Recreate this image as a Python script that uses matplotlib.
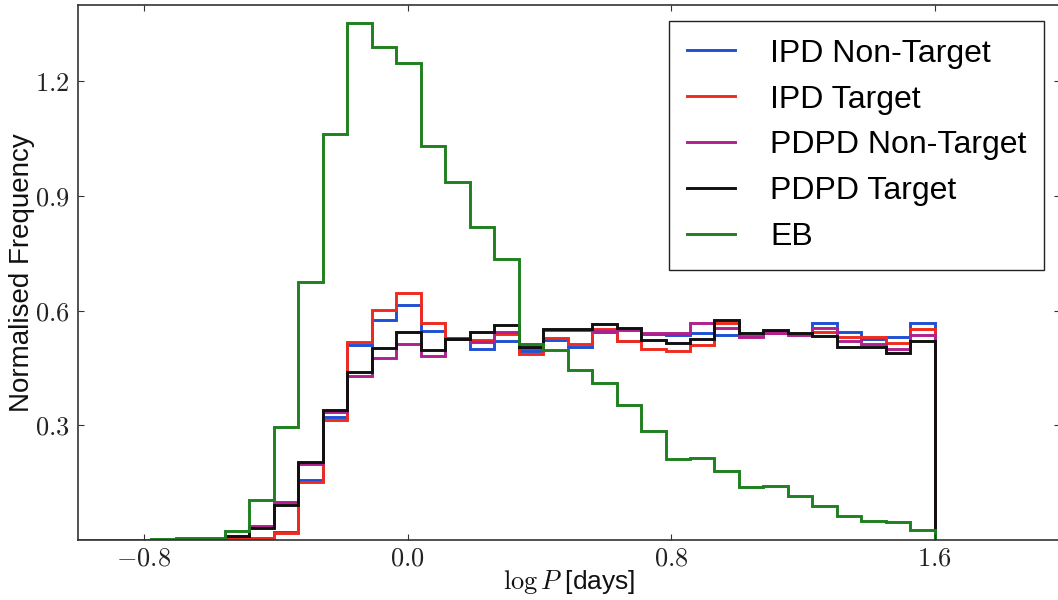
import numpy as np
import matplotlib
matplotlib.use("Agg")
import matplotlib.pyplot as plt

plt.rcParams["font.family"] = ["Liberation Sans", "DejaVu Sans"]
plt.rcParams["mathtext.fontset"] = "cm"

# Histogram bins in log P [days]
bin_edges = np.linspace(-1.0, 1.6, 36)

ipd_non_target = [0.0, 0.0, 0.0, 0.0, 0.001, 0.002, 0.008, 0.004, 0.020, 0.157,
                  0.322, 0.510, 0.577, 0.615, 0.548, 0.527, 0.501, 0.521, 0.494, 0.523,
                  0.505, 0.545, 0.521, 0.538, 0.536, 0.541, 0.536, 0.535, 0.544, 0.538,
                  0.569, 0.545, 0.527, 0.530, 0.567]
ipd_target = [0.0, 0.0, 0.0, 0.0, 0.001, 0.001, 0.003, 0.004, 0.019, 0.151,
              0.313, 0.517, 0.602, 0.646, 0.567, 0.528, 0.523, 0.539, 0.486, 0.529,
              0.512, 0.552, 0.521, 0.501, 0.495, 0.510, 0.567, 0.535, 0.542, 0.540,
              0.545, 0.530, 0.530, 0.516, 0.551]
pdpd_non_target = [0.0, 0.0, 0.0, 0.0, 0.001, 0.003, 0.010, 0.037, 0.100, 0.200,
                   0.335, 0.429, 0.475, 0.513, 0.481, 0.528, 0.518, 0.545, 0.503, 0.549,
                   0.549, 0.547, 0.549, 0.541, 0.541, 0.567, 0.554, 0.532, 0.542, 0.536,
                   0.554, 0.521, 0.514, 0.501, 0.536]
pdpd_target = [0.0, 0.0, 0.0, 0.0, 0.001, 0.003, 0.010, 0.032, 0.092, 0.205,
               0.339, 0.440, 0.503, 0.543, 0.497, 0.526, 0.543, 0.562, 0.505, 0.551,
               0.551, 0.564, 0.555, 0.523, 0.516, 0.525, 0.576, 0.542, 0.549, 0.542,
               0.534, 0.505, 0.505, 0.490, 0.520]
eb = [0.0, 0.0, 0.001, 0.002, 0.004, 0.006, 0.024, 0.105, 0.296, 0.676,
      1.063, 1.352, 1.290, 1.248, 1.030, 0.936, 0.818, 0.736, 0.514, 0.497,
      0.444, 0.412, 0.352, 0.284, 0.213, 0.215, 0.180, 0.140, 0.142, 0.116,
      0.088, 0.062, 0.051, 0.046, 0.027]

series = [
    ("IPD Non-Target", ipd_non_target, "#1f4fd4"),
    ("IPD Target", ipd_target, "#f02a1e"),
    ("PDPD Non-Target", pdpd_non_target, "#b0208e"),
    ("PDPD Target", pdpd_target, "#101010"),
    ("EB", eb, "#1e801e"),
]

x_ticks = [-0.8, 0.0, 0.8, 1.6]
x_tick_labels = [r"$-0.8$", r"$0.0$", r"$0.8$", r"$1.6$"]
y_ticks = [0.3, 0.6, 0.9, 1.2]
y_tick_labels = [r"$0.3$", r"$0.6$", r"$0.9$", r"$1.2$"]

fig = plt.figure(figsize=(10.58, 6.0), dpi=100)
ax = fig.add_axes([78 / 1058, 60 / 600, (1060 - 78) / 1058, 535 / 600])

for label, values, color in series:
    ax.stairs(values, bin_edges, baseline=0, color=color, lw=2.1, label=label)

ax.set_xlim(-1.0, 1.98)
ax.set_ylim(0, 1.4)
ax.set_xticks(x_ticks, x_tick_labels)
ax.set_yticks(y_ticks, y_tick_labels)
ax.tick_params(direction="in", length=4, width=0.8, top=True, right=True,
               labelsize=19, pad=6, colors="#333333", labelcolor="#222222")
ax.tick_params(axis="x", pad=5)

for sp in ax.spines.values():
    sp.set_color("#333333")
    sp.set_linewidth(1.2)

ax.set_xlabel(r"$\log P$ [days]", fontsize=19, labelpad=-2, color="#111111")
ax.set_ylabel("Normalised Frequency", fontsize=20, labelpad=0, color="#111111")

leg = ax.legend(loc="upper right", fontsize=23, frameon=True, fancybox=False,
                framealpha=1, edgecolor="#222222", handlelength=1.5,
                handletextpad=1.1, labelspacing=0.5, borderpad=0.55,
                borderaxespad=0.5)
leg.get_frame().set_linewidth(1.0)

fig.savefig("out.png", dpi=100)
